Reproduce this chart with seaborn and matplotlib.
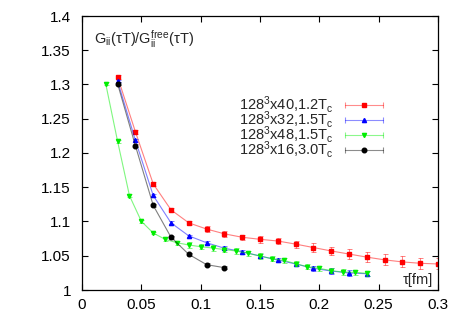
import numpy as np
import matplotlib
matplotlib.use("Agg")
import matplotlib.pyplot as plt
import seaborn as sns
from matplotlib.lines import Line2D
from matplotlib.legend_handler import HandlerLine2D, HandlerTuple

# tau [fm] and G_ii(tau T)/G_ii^free(tau T)
tau_40 = [0.030, 0.045, 0.060, 0.075, 0.090, 0.105, 0.120, 0.135, 0.150, 0.165,
          0.180, 0.195, 0.210, 0.225, 0.240, 0.255, 0.270, 0.285, 0.300]
g_40 = [1.311, 1.231, 1.155, 1.117, 1.098, 1.089, 1.082, 1.077, 1.074, 1.0715,
        1.067, 1.062, 1.057, 1.0525, 1.048, 1.044, 1.041, 1.039, 1.038]
err_40 = [0.003, 0.003, 0.003, 0.003, 0.003, 0.004, 0.004, 0.004, 0.005, 0.005,
          0.005, 0.006, 0.006, 0.007, 0.007, 0.008, 0.008, 0.008, 0.008]

tau_32 = [0.030, 0.045, 0.060, 0.075, 0.090, 0.105, 0.120, 0.135, 0.150, 0.165,
          0.180, 0.195, 0.210, 0.225, 0.240]
g_32 = [1.305, 1.2185, 1.138, 1.098, 1.079, 1.069, 1.061, 1.056, 1.0496, 1.0438,
        1.038, 1.0316, 1.0277, 1.0248, 1.0238]
err_32 = [0.002, 0.002, 0.002, 0.002, 0.002, 0.002, 0.003, 0.003, 0.003, 0.003,
          0.003, 0.004, 0.004, 0.004, 0.004]

tau_48 = [0.02, 0.03, 0.04, 0.05, 0.06, 0.07, 0.08, 0.09, 0.10, 0.11, 0.12,
          0.13, 0.14, 0.15, 0.16, 0.17, 0.18, 0.19, 0.20, 0.21, 0.22, 0.23, 0.24]
g_48 = [1.301, 1.217, 1.1377, 1.1003, 1.0832, 1.074, 1.069, 1.0657, 1.0632, 1.0613,
        1.059, 1.0569, 1.0535, 1.0496, 1.0457, 1.0433, 1.0384, 1.034, 1.0316, 1.0282,
        1.0263, 1.0258, 1.0243]
err_48 = [0.002, 0.002, 0.002, 0.002, 0.002, 0.003, 0.003, 0.004, 0.004, 0.004,
          0.004, 0.004, 0.004, 0.004, 0.004, 0.004, 0.004, 0.004, 0.004, 0.004,
          0.004, 0.004, 0.004]

tau_16 = [0.030, 0.045, 0.060, 0.075, 0.090, 0.105, 0.120]
g_16 = [1.301, 1.2107, 1.1236, 1.077, 1.052, 1.037, 1.0326]
err_16 = [0.002, 0.002, 0.002, 0.002, 0.002, 0.002, 0.002]

labels = [r"128$^3$x40,1.2T$_\mathrm{c}$", r"128$^3$x32,1.5T$_\mathrm{c}$",
          r"128$^3$x48,1.5T$_\mathrm{c}$", r"128$^3$x16,3.0T$_\mathrm{c}$"]

sets = [
    (tau_40, g_40, err_40, "#ff0000", "s", 3.3),
    (tau_32, g_32, err_32, "#0000ff", "^", 3.0),
    (tau_48, g_48, err_48, "#00ee00", "v", 3.0),
    (tau_16, g_16, err_16, "#000000", "o", 3.3),
]

sns.set_theme(style="ticks")
plt.rcParams["font.family"] = ["Liberation Sans", "DejaVu Sans"]
plt.rcParams["mathtext.fontset"] = "custom"
plt.rcParams["mathtext.rm"] = "Liberation Sans"
plt.rcParams["mathtext.it"] = "Liberation Sans"

fig = plt.figure(figsize=(4.54, 3.18), dpi=100)
ax = fig.add_axes([82 / 454, 28 / 318, 356 / 454, 274 / 318])

handles = []
hmap = {}
for (t, g, e, col, mk, ms), lab in zip(sets, labels):
    sns.lineplot(x=t, y=g, ax=ax, color=col, lw=0.8, alpha=0.5, legend=False,
                 estimator=None, sort=False)
    ax.errorbar(t, g, yerr=e, fmt="none", ecolor=col, elinewidth=0.7,
                capsize=1.8, capthick=0.7, alpha=0.5)
    ax.plot(t, g, ls="none", marker=mk, ms=ms, color=col, mec=col)
    bar = Line2D([], [], color=col, lw=0.8, alpha=0.45, marker="|", ms=4, mew=0.8)
    dot = Line2D([], [], ls="none", marker=mk, ms=ms, color=col)
    hmap[bar] = HandlerLine2D(numpoints=2)
    hmap[dot] = HandlerLine2D(numpoints=1)
    handles.append((bar, dot))

hmap[tuple] = HandlerTuple(ndivide=1)
leg = ax.legend(handles, labels, handler_map=hmap, markerfirst=False,
                loc="upper left", bbox_to_anchor=(0.425, 0.735), frameon=False,
                fontsize=10.5, handlelength=3.2, handletextpad=0.5,
                labelspacing=-0.42, borderaxespad=0)

ax.set_xlim(0, 0.3)
ax.set_ylim(1, 1.4)
ax.set_xticks([0, 0.05, 0.1, 0.15, 0.2, 0.25, 0.3])
ax.set_xticklabels(["0", "0.05", "0.1", "0.15", "0.2", "0.25", "0.3"])
ax.set_yticks([1, 1.05, 1.1, 1.15, 1.2, 1.25, 1.3, 1.35, 1.4])
ax.set_yticklabels(["1", "1.05", "1.1", "1.15", "1.2", "1.25", "1.3", "1.35", "1.4"])
ax.tick_params(direction="in", top=True, right=True, length=4, width=0.8,
               labelsize=11, colors="black")
ax.tick_params(axis="x", pad=6)
ax.tick_params(axis="y", pad=8)
for s in ax.spines.values():
    s.set_linewidth(0.9)
    s.set_color("black")
    s.set_visible(True)

ax.text(0.033, 0.955, r"G$_\mathrm{ii}$(τT)/G$_\mathrm{ii}^\mathrm{free}$(τT)",
        transform=ax.transAxes, fontsize=10.5, va="top", ha="left")
ax.text(0.985, 0.01, "τ[fm]", transform=ax.transAxes, fontsize=10.5,
        va="bottom", ha="right")

fig.savefig("out.png", dpi=100)
